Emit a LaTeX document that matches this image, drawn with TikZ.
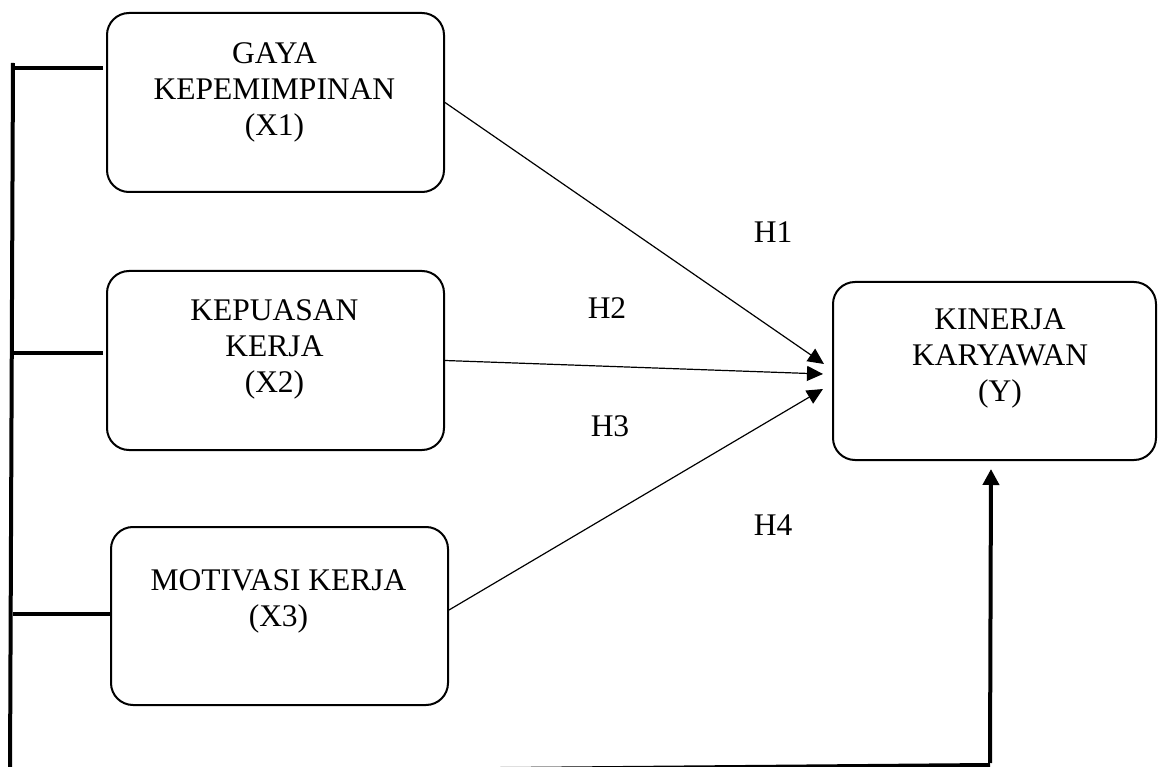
\documentclass[tikz,border=0pt]{standalone}
\usepackage{fontspec}
\setmainfont{Liberation Serif}
\usetikzlibrary{arrows.meta,calc}
\begin{document}
\begin{tikzpicture}[x=1pt,y=-1pt,
  box/.style={draw,line width=2pt,rounded corners=22pt,anchor=north west,inner sep=0pt},
  lbl/.style={align=center,inner sep=0pt,font=\fontsize{31.5}{36}\selectfont},
  hyp/.style={inner sep=0pt,font=\fontsize{31.5}{36}\selectfont},
  conn/.style={line width=1.2pt,-{Triangle[length=16pt,width=15pt]}},
  bus/.style={line width=4pt},
  up/.style={line width=4pt,-{Triangle[length=16pt,width=16pt]}}]
\useasboundingbox (0,0) rectangle (1160,767);
% boxes
\node[box,minimum width=337pt,minimum height=179pt] (x1) at (106,12) {};
\node[box,minimum width=337pt,minimum height=179pt] (x2) at (106,270) {};
\node[box,minimum width=337pt,minimum height=178pt] (x3) at (110,526) {};
\node[box,minimum width=323pt,minimum height=178pt] (y) at (832,281) {};
% texts
\node[lbl,anchor=north] (t1) at (274.5,42) {GAYA\\KEPEMIMPINAN\\(X1)};
\node[lbl,anchor=north] (t2) at (274.5,299) {KEPUASAN\\KERJA\\(X2)};
\node[lbl,anchor=north] (t3) at (278.5,569) {MOTIVASI KERJA\\(X3)};
\node[lbl,anchor=north] (ty) at (1000,309) {KINERJA\\KARYAWAN\\(Y)};
% hypothesis labels
\node[hyp] (h1) at (773,232) {H1};
\node[hyp] (h2) at (607,308) {H2};
\node[hyp] (h3) at (610,426) {H3};
\node[hyp] (h4) at (773,525) {H4};
% arrows to Y
\draw[conn] (x1.east) -- ([xshift=-8pt,yshift=7pt]y.west);
\draw[conn] (x2.east) -- ([xshift=-9pt,yshift=-3pt]y.west);
\draw[conn] ([yshift=6pt]x3.east) -- ([xshift=-9pt,yshift=-18pt]y.west);
% left bus
\coordinate (lt) at (13,63);
\coordinate (lb) at (10,773);
\draw[bus] (lt) -- (lb);
\coordinate (b1) at ([xshift=-3pt,yshift=34.5pt]x1.west);
\coordinate (b2) at ([xshift=-3pt,yshift=7.5pt]x2.west);
\coordinate (b3) at ([yshift=2pt]x3.west);
\draw[bus] (b1) -- (b1 -| lt);
\draw[bus] (b2) -- (b2 -| lt);
\draw[bus] (b3) -- (b3 -| lt);
% bottom line and arrow up
\coordinate (br) at (990,765);
\draw[bus] (lb) -- (br);
\draw[up] ([yshift=2pt]br) -- ([xshift=-3.5pt,yshift=-8pt]y.south);
\end{tikzpicture}
\end{document}
